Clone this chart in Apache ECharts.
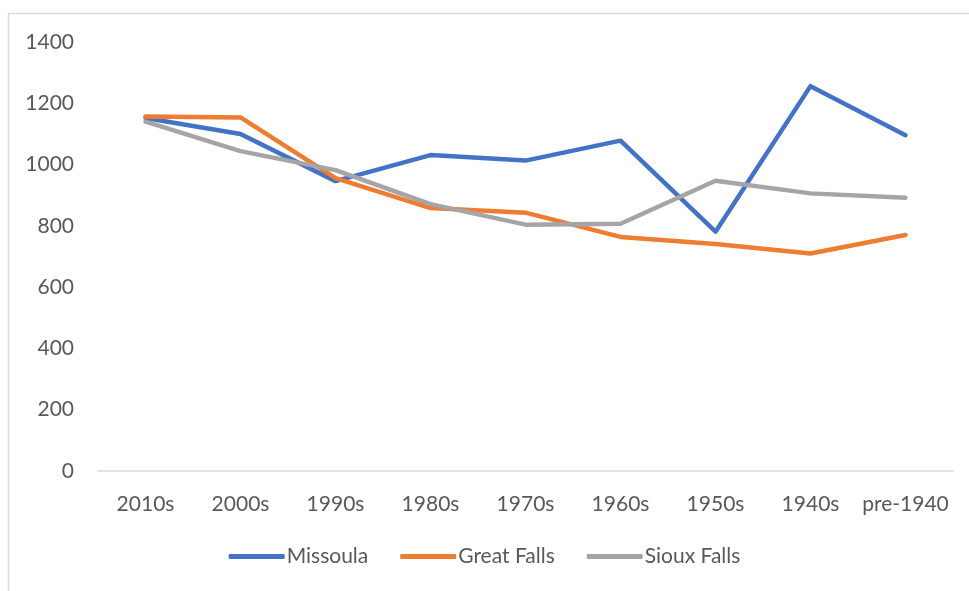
<!DOCTYPE html>
<html>
<head>
<meta charset="utf-8">
<script src="https://cdn.jsdelivr.net/npm/echarts@6/dist/echarts.min.js"></script>
<style>
  html, body { margin: 0; padding: 0; background: #fff; }
  #chart { width: 969px; height: 591px; }
</style>
</head>
<body>
<div id="chart"></div>
<script>
// data
const decades = ['2010s', '2000s', '1990s', '1980s', '1970s', '1960s', '1950s', '1940s', 'pre-1940'];
const missoula = [1152, 1100, 946, 1031, 1013, 1078, 781, 1256, 1096];
const greatFalls = [1157, 1154, 956, 858, 843, 764, 741, 710, 770];
const siouxFalls = [1140, 1044, 982, 871, 804, 807, 947, 906, 892];

const chart = echarts.init(document.getElementById('chart'));
const font = "Lato, 'Open Sans', sans-serif";
const txt = '#595959';

const mkLine = (name, data, color) => ({
  name,
  type: 'line',
  data,
  symbol: 'none',
  lineStyle: { width: 4.5, color, cap: 'round', join: 'round' },
  itemStyle: { color },
  animation: false,
});

chart.setOption({
  backgroundColor: '#fff',
  animation: false,
  graphic: [{
    type: 'rect',
    shape: { x: 8.5, y: 13.5, width: 1000, height: 700 },
    style: { fill: 'none', stroke: '#d9d9d9', lineWidth: 1.5 },
    silent: true,
  }],
  grid: { left: 98, right: 16, top: 42, bottom: 120 },
  legend: {
    data: ['Missoula', 'Great Falls', 'Sioux Falls'],
    bottom: 19,
    left: 'center',
    itemWidth: 56,
    itemHeight: 5,
    itemGap: 32,
    icon: 'roundRect',
    textStyle: { color: txt, fontSize: 21, fontFamily: font, padding: [0, 0, 0, -3] },
  },
  xAxis: {
    type: 'category',
    data: decades,
    boundaryGap: true,
    axisLine: { lineStyle: { color: '#d9d9d9', width: 1.5 } },
    axisTick: { show: false },
    axisLabel: { color: txt, fontSize: 21, fontFamily: font, margin: 23, interval: 0 },
  },
  yAxis: {
    type: 'value',
    min: 0,
    max: 1400,
    interval: 200,
    axisLine: { show: false },
    axisTick: { show: false },
    splitLine: { show: false },
    axisLabel: { color: txt, fontSize: 21, fontFamily: font, margin: 24, formatter: v => String(v) },
  },
  series: [
    mkLine('Missoula', missoula, '#4472c4'),
    mkLine('Great Falls', greatFalls, '#ed7d31'),
    mkLine('Sioux Falls', siouxFalls, '#a5a5a5'),
  ],
});
</script>
</body>
</html>
